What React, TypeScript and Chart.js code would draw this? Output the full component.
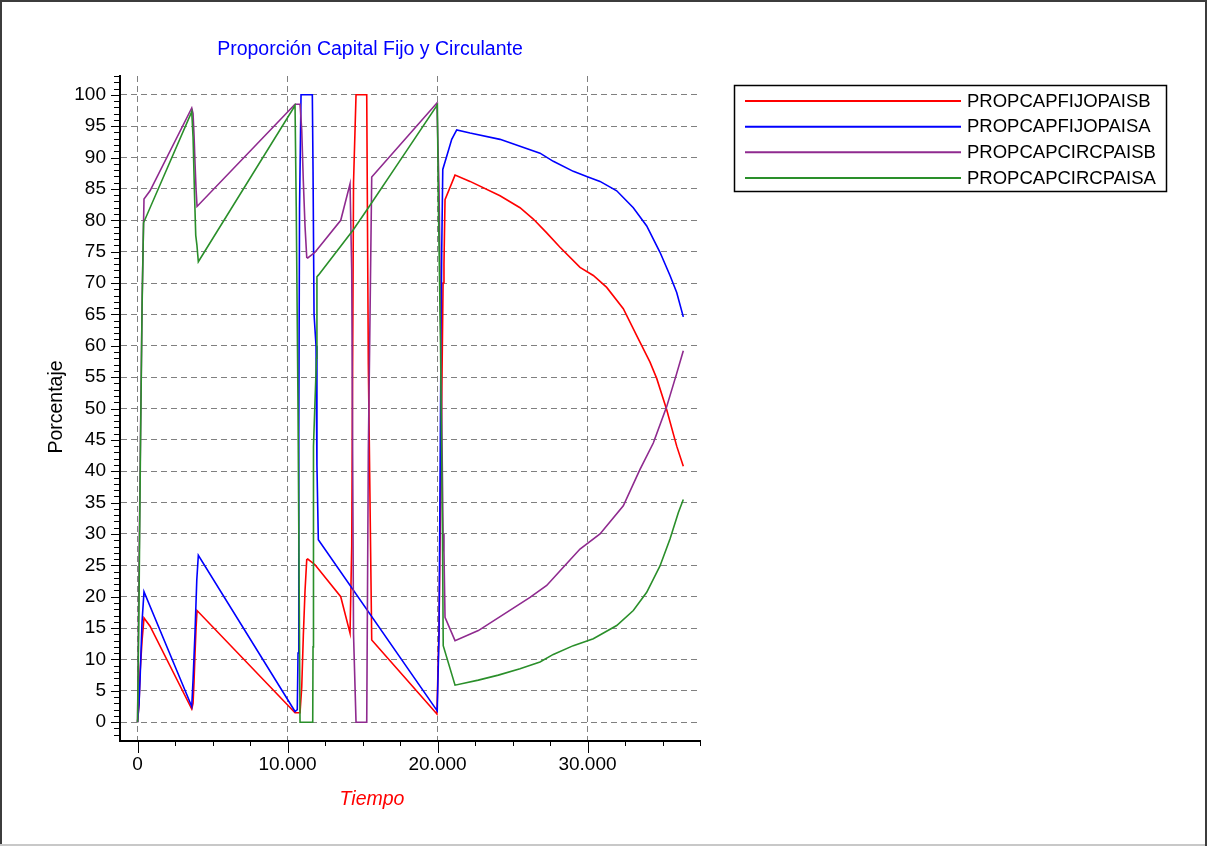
import React, { useEffect, useRef } from "react";
import { Chart, registerables } from "chart.js";

Chart.register(...registerables);

const FONT = '"Liberation Sans", Arial, Helvetica, sans-serif';

const chartTitle = "Proporción Capital Fijo y Circulante";
const xAxisTitle = "Tiempo";
const yAxisTitle = "Porcentaje";

const seriesLabels = ["PROPCAPFIJOPAISB", "PROPCAPFIJOPAISA", "PROPCAPCIRCPAISB", "PROPCAPCIRCPAISA"];
const seriesColors = ["#ff0000", "#0000ff", "#8f2a8f", "#2a8f2a"];

// PROPCAPFIJOPAISB (red)
const redX = [0, 100, 170, 300, 430, 833, 3613, 3700, 3767, 3833, 3900, 3967, 10500, 10833, 10947, 11053, 11167, 11280, 11347, 11833, 13547, 14167, 14280, 14400, 14567, 15280, 15387, 15613, 19960, 20100, 20250, 20370, 20430, 20500, 21167, 22167, 24167, 25500, 26387, 27280, 28167, 29500, 30387, 31280, 32387, 33280, 34167, 34613, 35280, 35947, 36387];
const redY = [0, 3, 8, 13, 16.6, 15.3, 2.1, 3, 6.5, 11, 15, 17.8, 1.5, 1.5, 5.6, 13.8, 21, 25.9, 26.0, 25.1, 20.0, 14.2, 28, 86, 100, 100, 57, 13.1, 1.3, 15, 45, 70, 73, 83.3, 87.2, 86.2, 83.9, 82.0, 80.2, 78.0, 75.7, 72.5, 71.2, 69.3, 65.9, 61.6, 57.4, 54.8, 49.8, 44.0, 40.8];

// PROPCAPFIJOPAISA (blue)
const blueX = [0, 100, 170, 300, 430, 3613, 3700, 3833, 3950, 4053, 10500, 10650, 10700, 10750, 10800, 10900, 11653, 11700, 11767, 11900, 11960, 12053, 19980, 20100, 20200, 20280, 20350, 20613, 20947, 21280, 22167, 24167, 25500, 26833, 27720, 29053, 29947, 30833, 31947, 33053, 33947, 34833, 35500, 35947, 36387];
const blueY = [0, 3, 7, 16, 20.8, 2.5, 6.7, 14.4, 22.7, 26.6, 1.7, 2, 11, 46, 82, 100, 100, 88, 65, 60, 41, 29.1, 1.8, 14, 50, 75, 88.1, 90.2, 92.9, 94.4, 93.9, 92.9, 91.8, 90.7, 89.4, 87.8, 87.0, 86.2, 84.7, 82.0, 79.1, 74.9, 71.2, 68.5, 64.6];

// PROPCAPCIRCPAISB (purple)
const purpleX = [0, 100, 170, 310, 430, 833, 3613, 3700, 3767, 3833, 3900, 3967, 10500, 10833, 10947, 11053, 11167, 11280, 11347, 11833, 13547, 14167, 14280, 14400, 14567, 15280, 15387, 15613, 19960, 20100, 20250, 20370, 20430, 20500, 21167, 22720, 24613, 26167, 27280, 28387, 29500, 30833, 32387, 33500, 34387, 35280, 35947, 36387];
const purpleY = [0, 25, 40, 68, 83.4, 84.7, 97.9, 97, 93.5, 89, 85, 82.2, 98.5, 98.5, 94.4, 86.2, 79, 74.1, 74.0, 74.9, 80.0, 85.8, 72, 14, 0, 0, 43, 86.9, 98.7, 85, 55, 30, 27, 16.7, 13.0, 14.6, 17.5, 19.9, 21.8, 24.7, 27.6, 30.0, 34.5, 40.3, 44.5, 50.3, 55.6, 59.2];

// PROPCAPCIRCPAISA (green)
const greenX = [0, 100, 200, 300, 400, 3613, 3700, 3800, 3880, 3960, 4053, 10500, 10580, 10700, 10833, 11680, 11700, 11730, 11930, 11960, 12070, 14387, 15500, 17720, 19990, 20050, 20200, 20330, 20380, 21167, 22720, 24053, 25500, 26833, 27720, 29053, 30387, 31947, 33053, 33947, 34833, 35500, 36053, 36387];
const greenY = [0, 20, 45, 66, 79.6, 97.3, 93.3, 84, 77.6, 76, 73.4, 98.3, 82.2, 50, 0, 0, 12, 44, 58, 71, 71.3, 78.5, 82.4, 90.3, 98.4, 84, 60, 30, 12.2, 5.9, 6.7, 7.5, 8.5, 9.6, 10.8, 12.2, 13.3, 15.4, 17.8, 20.7, 24.9, 29.2, 33.4, 35.5];

const yTickValues = [0, 5, 10, 15, 20, 25, 30, 35, 40, 45, 50, 55, 60, 65, 70, 75, 80, 85, 90, 95, 100];
const xTickValues = [0, 10000, 20000, 30000];
const xTickLabels = ["0", "10.000", "20.000", "30.000"];

const seriesXs = [redX, blueX, purpleX, greenX];
const seriesYs = [redY, blueY, purpleY, greenY];

const decorPlugin = {
  id: "decor",
  beforeDraw(chart: any) {
    const { ctx, width, height } = chart;
    ctx.save();
    ctx.fillStyle = "#ffffff";
    ctx.fillRect(0, 0, width, height);
    ctx.fillStyle = "#3c3c3c";
    ctx.fillRect(0, 0, width - 3, 2);
    ctx.fillRect(0, 0, 2, height);
    ctx.fillRect(width - 5, 0, 2, height);
    ctx.fillStyle = "#c8c8c8";
    ctx.fillRect(0, height - 2, width - 5, 2);
    ctx.restore();
  },
  afterDraw(chart: any) {
    const { ctx, chartArea, scales } = chart;
    const xs = scales.x;
    const ys = scales.y;
    ctx.save();

    // tick marks (major + minor)
    ctx.strokeStyle = "#000";
    ctx.lineWidth = 1;
    ctx.beginPath();
    const axisX = chartArea.left;
    for (let v = Math.ceil(ys.min); v <= Math.floor(ys.max); v++) {
      const py = Math.round(ys.getPixelForValue(v)) + 0.5;
      if (py > chartArea.bottom - 3) continue;
      const len = v % 5 === 0 ? 8 : 5;
      ctx.moveTo(axisX - len - 1, py);
      ctx.lineTo(axisX - 1, py);
    }
    const axisY = chartArea.bottom;
    for (let v = Math.ceil(xs.min / 2500) * 2500; v <= xs.max; v += 2500) {
      const px = Math.round(xs.getPixelForValue(v)) + 0.5;
      const len = v % 10000 === 0 ? 11 : 4;
      ctx.moveTo(px, axisY + 1);
      ctx.lineTo(px, axisY + 1 + len);
    }
    ctx.stroke();

    // title
    ctx.fillStyle = "#0000ff";
    ctx.font = `19.5px ${FONT}`;
    ctx.textAlign = "center";
    ctx.textBaseline = "middle";
    ctx.fillText(chartTitle, 370, 50);

    // x axis title
    ctx.fillStyle = "#ff0000";
    ctx.font = `italic 19.5px ${FONT}`;
    ctx.fillText(xAxisTitle, 372, 800);

    // y axis title
    ctx.save();
    ctx.translate(57, 407);
    ctx.rotate(-Math.PI / 2);
    ctx.fillStyle = "#000";
    ctx.font = `19.5px ${FONT}`;
    ctx.fillText(yAxisTitle, 0, 0);
    ctx.restore();

    // legend
    const lx = 734.5, ly = 85.5, lw = 432, lh = 106;
    ctx.strokeStyle = "#000";
    ctx.lineWidth = 1.5;
    ctx.strokeRect(lx, ly, lw, lh);
    const rowYs = [101, 126.7, 152.3, 178];
    chart.data.datasets.forEach((ds: any, i: number) => {
      const y = rowYs[i];
      ctx.strokeStyle = ds.borderColor;
      ctx.lineWidth = 2;
      ctx.beginPath();
      ctx.moveTo(745, y);
      ctx.lineTo(961, y);
      ctx.stroke();
      ctx.fillStyle = "#000";
      ctx.font = `18.5px ${FONT}`;
      ctx.textAlign = "left";
      ctx.textBaseline = "middle";
      ctx.fillText(ds.label, 967, y + 0.5);
    });

    ctx.restore();
  },
};

export default function App() {
  const canvasRef = useRef<HTMLCanvasElement | null>(null);

  useEffect(() => {
    if (!canvasRef.current) return;
    Chart.defaults.font.family = FONT;
    const gridCommon = {
      color: "#808080",
      lineWidth: 1,
      drawTicks: false,
      drawOnChartArea: true,
    };
    const borderCommon = { display: true, color: "#000", width: 2, dash: [6, 4] };

    const chart = new Chart(canvasRef.current, {
      type: "line",
      data: {
        datasets: seriesLabels.map((label, i) => ({
          label,
          data: seriesXs[i].map((x, j) => ({ x, y: seriesYs[i][j] })),
          borderColor: seriesColors[i],
          backgroundColor: seriesColors[i],
          borderWidth: 1.6,
          pointRadius: 0,
          pointHoverRadius: 0,
          tension: 0,
          fill: false,
          order: 4 - i,
        })),
      },
      options: {
        responsive: false,
        maintainAspectRatio: false,
        devicePixelRatio: 1,
        animation: false,
        events: [],
        layout: { padding: { left: 60, top: 76, right: 510, bottom: 65 } },
        plugins: {
          legend: { display: false },
          title: { display: false },
          tooltip: { enabled: false },
        },
        scales: {
          x: {
            type: "linear",
            min: -1170,
            max: 37500,
            bounds: "data",
            afterBuildTicks: (s: any) => {
              s.ticks = xTickValues.map((v) => ({ value: v }));
            },
            afterFit: (s: any) => {
              s.height = 40;
            },
            grid: gridCommon,
            border: borderCommon,
            ticks: {
              autoSkip: false,
              maxRotation: 0,
              minRotation: 0,
              padding: 12.5,
              color: "#000",
              font: { family: FONT, size: 19 },
              callback: (_v: any, i: number) => xTickLabels[i] ?? "",
            },
          },
          y: {
            type: "linear",
            min: -3,
            max: 103,
            bounds: "data",
            afterBuildTicks: (s: any) => {
              s.ticks = yTickValues.map((v) => ({ value: v }));
            },
            afterFit: (s: any) => {
              s.width = 60;
            },
            grid: gridCommon,
            border: borderCommon,
            ticks: {
              autoSkip: false,
              padding: 14,
              color: "#000",
              font: { family: FONT, size: 19 },
              callback: (v: any) => String(v),
            },
          },
        },
      } as any,
      plugins: [decorPlugin],
    });
    return () => chart.destroy();
  }, []);

  return (
    <div style={{ position: "absolute", left: 0, top: 0, width: 1210, height: 846 }}>
      <canvas ref={canvasRef} width={1210} height={846} style={{ display: "block", width: 1210, height: 846 }} />
    </div>
  );
}
